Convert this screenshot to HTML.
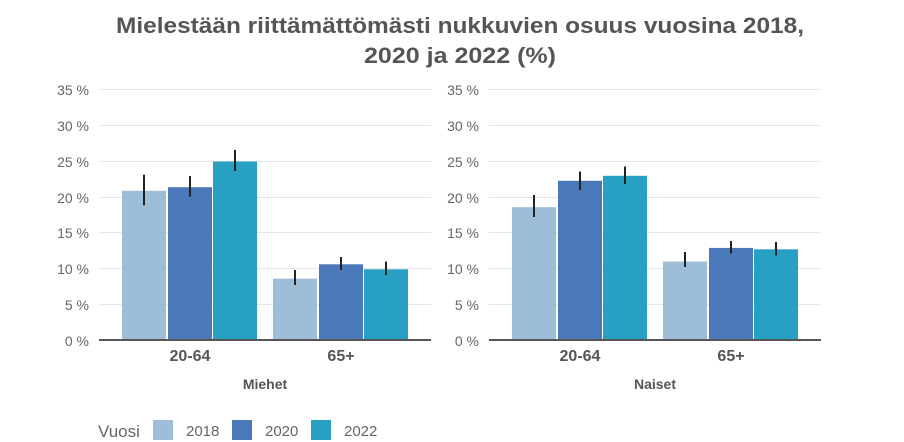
<!DOCTYPE html>
<html><head><meta charset="utf-8"><style>html,body{margin:0;padding:0;background:#fff}svg{display:block}</style></head>
<body>
<svg width="904" height="442" xmlns="http://www.w3.org/2000/svg" font-family="Liberation Sans, sans-serif">
<text x="460" y="33" text-anchor="middle" font-size="22" font-weight="bold" fill="#555" textLength="688" lengthAdjust="spacingAndGlyphs">Mielestään riittämättömästi nukkuvien osuus vuosina 2018,</text>
<text x="460" y="63" text-anchor="middle" font-size="22" font-weight="bold" fill="#555" textLength="192" lengthAdjust="spacingAndGlyphs">2020 ja 2022 (%)</text>
<g id="grid" stroke="#e6e6e6" stroke-width="1">
<line x1="99" x2="431" y1="89.5" y2="89.5"/><line x1="99" x2="431" y1="125.5" y2="125.5"/><line x1="99" x2="431" y1="161.5" y2="161.5"/><line x1="99" x2="431" y1="197.5" y2="197.5"/><line x1="99" x2="431" y1="232.5" y2="232.5"/><line x1="99" x2="431" y1="268.5" y2="268.5"/><line x1="99" x2="431" y1="304.5" y2="304.5"/>
<line x1="489" x2="821" y1="89.5" y2="89.5"/><line x1="489" x2="821" y1="125.5" y2="125.5"/><line x1="489" x2="821" y1="161.5" y2="161.5"/><line x1="489" x2="821" y1="197.5" y2="197.5"/><line x1="489" x2="821" y1="232.5" y2="232.5"/><line x1="489" x2="821" y1="268.5" y2="268.5"/><line x1="489" x2="821" y1="304.5" y2="304.5"/>
</g>
<g font-size="14" fill="#666" text-anchor="end">
<text x="89" y="95">35 %</text><text x="89" y="131">30 %</text><text x="89" y="167">25 %</text><text x="89" y="203">20 %</text><text x="89" y="238">15 %</text><text x="89" y="274">10 %</text><text x="89" y="310">5 %</text><text x="89" y="346">0 %</text>
<text x="479" y="95">35 %</text><text x="479" y="131">30 %</text><text x="479" y="167">25 %</text><text x="479" y="203">20 %</text><text x="479" y="238">15 %</text><text x="479" y="274">10 %</text><text x="479" y="310">5 %</text><text x="479" y="346">0 %</text>
</g>
<g>
<!-- left -->
<rect x="122" y="190.8" width="44" height="149.2" fill="#9dbdd9"/>
<rect x="168" y="187.2" width="44" height="152.8" fill="#4a78b8"/>
<rect x="213" y="161.5" width="44" height="178.5" fill="#28a0c4"/>
<rect x="273" y="278.6" width="44" height="61.4" fill="#9dbdd9"/>
<rect x="319" y="264.3" width="44" height="75.7" fill="#4a78b8"/>
<rect x="364" y="269.3" width="44" height="70.7" fill="#28a0c4"/>
<!-- right -->
<rect x="512" y="207.2" width="44" height="132.8" fill="#9dbdd9"/>
<rect x="558" y="180.8" width="44" height="159.2" fill="#4a78b8"/>
<rect x="603" y="175.8" width="44" height="164.2" fill="#28a0c4"/>
<rect x="663" y="261.5" width="44" height="78.5" fill="#9dbdd9"/>
<rect x="709" y="247.9" width="44" height="92.1" fill="#4a78b8"/>
<rect x="754" y="249.3" width="44" height="90.7" fill="#28a0c4"/>
</g>
<g stroke="#222" stroke-width="2">
<line x1="144" x2="144" y1="174.7" y2="205.3"/>
<line x1="190" x2="190" y1="176" y2="196.7"/>
<line x1="235" x2="235" y1="150" y2="171"/>
<line x1="295" x2="295" y1="270" y2="285"/>
<line x1="341" x2="341" y1="257" y2="270"/>
<line x1="386" x2="386" y1="261.5" y2="275"/>
<line x1="534" x2="534" y1="195" y2="217"/>
<line x1="580" x2="580" y1="171.5" y2="190"/>
<line x1="625" x2="625" y1="166.5" y2="184"/>
<line x1="685" x2="685" y1="252" y2="267"/>
<line x1="731" x2="731" y1="241" y2="253.5"/>
<line x1="776" x2="776" y1="242" y2="255.5"/>
</g>
<line x1="99" x2="431" y1="340" y2="340" stroke="#555" stroke-width="2"/>
<line x1="489" x2="821" y1="340" y2="340" stroke="#555" stroke-width="2"/>
<g font-size="16" font-weight="bold" fill="#555" text-anchor="middle">
<text x="190" y="361">20-64</text><text x="341" y="361">65+</text>
<text x="580" y="361">20-64</text><text x="731" y="361">65+</text>
</g>
<g font-size="14" font-weight="bold" fill="#555" text-anchor="middle">
<text x="265" y="389">Miehet</text><text x="655" y="389">Naiset</text>
</g>
<text x="98" y="437" font-size="17" fill="#666">Vuosi</text>
<rect x="153" y="420" width="20" height="20" fill="#9dbdd9"/>
<text x="186" y="436" font-size="15" fill="#666">2018</text>
<rect x="232" y="420" width="20" height="20" fill="#4a78b8"/>
<text x="265" y="436" font-size="15" fill="#666">2020</text>
<rect x="311" y="420" width="20" height="20" fill="#28a0c4"/>
<text x="344" y="436" font-size="15" fill="#666">2022</text>
</svg>
</body></html>
